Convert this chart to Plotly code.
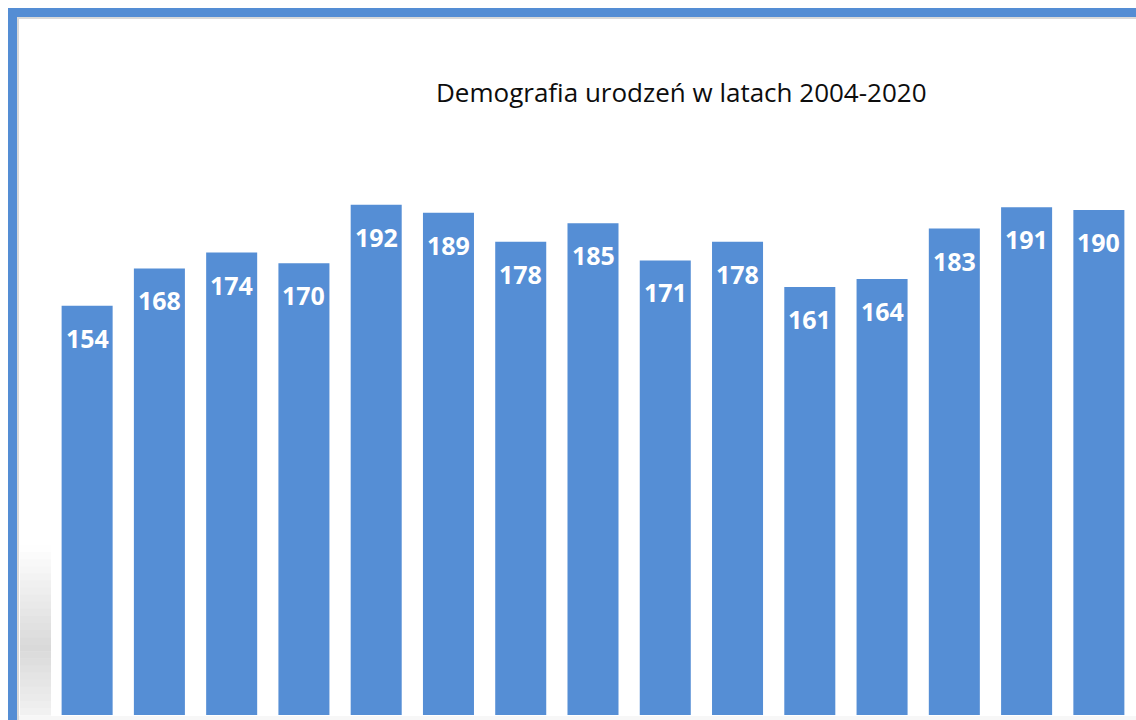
import plotly.graph_objects as go

years = [str(y) for y in range(2004, 2019)]
births = [154, 168, 174, 170, 192, 189, 178, 185, 171, 178, 161, 164, 183, 191, 190]
title_text = "Demografia urodzeń w latach 2004-2020"

BAR_COLOR = "#558ED5"
FRAME_BLUE = "#548DD4"

FW, FH = 1136, 720
L, R, T, B = 51, 1, 183, 5
PW, PH = FW - L - R, FH - T - B


def px(x):
    return (x - L) / PW


def py(y):
    return (FH - B - y) / PH


fig = go.Figure()
fig.add_trace(go.Bar(x=years, y=births, marker=dict(color=BAR_COLOR, line=dict(width=0)),
                     hoverinfo="x+y"))

annotations = [
    dict(x=i, y=v, xref="x", yref="y", text="<b>%d</b>" % v, showarrow=False,
         yanchor="middle", xanchor="center", yshift=-32,
         font=dict(family="Open Sans", size=25, color="white"))
    for i, v in enumerate(births)
]
annotations.append(dict(x=px(681), y=py(92), xref="paper", yref="paper", text=title_text,
                        showarrow=False, xanchor="center", yanchor="middle",
                        font=dict(family="Open Sans", size=26, color="#0d0d0d")))

shapes = [
    dict(type="rect", xref="paper", yref="paper", x0=px(8), x1=px(1136), y0=py(8), y1=py(17),
         fillcolor=FRAME_BLUE, line=dict(width=0), layer="above"),
    dict(type="rect", xref="paper", yref="paper", x0=px(8), x1=px(17), y0=py(8), y1=py(720),
         fillcolor=FRAME_BLUE, line=dict(width=0), layer="above"),
    dict(type="rect", xref="paper", yref="paper", x0=px(17), x1=px(1136), y0=py(17), y1=py(19),
         fillcolor="#d9d9d9", line=dict(width=0), layer="above"),
    dict(type="rect", xref="paper", yref="paper", x0=px(17), x1=px(19), y0=py(17), y1=py(720),
         fillcolor="#d9d9d9", line=dict(width=0), layer="above"),
    dict(type="rect", xref="paper", yref="paper", x0=px(19), x1=px(1136), y0=py(716), y1=py(720),
         fillcolor="#f7f7f7", line=dict(width=0), layer="below"),
]

grad_top, grad_peak, grad_bot = 545, 647, 715
steps = 24
for i in range(steps):
    y0 = grad_top + (grad_bot - grad_top) * i / steps
    y1 = grad_top + (grad_bot - grad_top) * (i + 1) / steps
    ym = (y0 + y1) / 2
    if ym <= grad_peak:
        t = (ym - grad_top) / (grad_peak - grad_top)
        g = 255 - t * (255 - 217)
    else:
        t = (ym - grad_peak) / (grad_bot - grad_peak)
        g = 217 + t * (242 - 217)
    g = int(round(g))
    shapes.append(dict(type="rect", xref="paper", yref="paper", x0=px(20), x1=px(51),
                       y0=py(y0), y1=py(y1 + 0.5), fillcolor=f"rgb({g},{g},{g})",
                       line=dict(width=0), layer="below"))

fig.update_layout(
    width=FW, height=FH,
    margin=dict(l=L, r=R, t=T, b=B, pad=0),
    paper_bgcolor="white", plot_bgcolor="rgba(0,0,0,0)",
    bargap=0.294,
    showlegend=False,
    xaxis=dict(type="category", range=[-0.5, 14.5], showticklabels=False, showgrid=False,
               zeroline=False, showline=False, ticks=""),
    yaxis=dict(range=[0, 200.15], showticklabels=False, showgrid=False, zeroline=False,
               showline=False, ticks=""),
    annotations=annotations,
    shapes=shapes,
)

fig.write_html("out.html", config={"displayModeBar": False},
               post_script="document.body.style.margin='0';document.body.style.overflow='hidden';")
